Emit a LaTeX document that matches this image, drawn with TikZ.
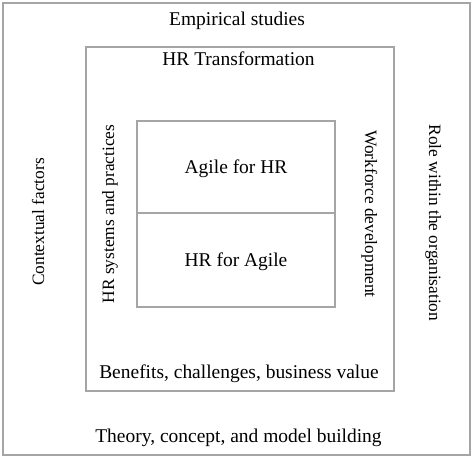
\documentclass[tikz,border=0pt]{standalone}
\usepackage{fontspec}
\setmainfont{Liberation Serif}
\definecolor{framegray}{RGB}{165,165,165}
\begin{document}
\begin{tikzpicture}[x=0.75pt,y=-0.75pt,
   frame/.style={draw=framegray,line width=1.1pt},
   boxtext/.style={anchor=base,inner sep=0pt,font=\fontsize{14.6}{17}\selectfont},
   sidetext/.style={anchor=base,inner sep=0pt,font=\fontsize{13}{15}\selectfont}]
   \useasboundingbox (0,0) rectangle (474,458);
   % Rahmen
   \draw[frame] (3,3) rectangle (470,455);
   \draw[frame] (86,47) rectangle (394,391);
   \draw[frame] (137,121) rectangle (335,307);
   \draw[frame] (137,213) -- (335,213);

   % waagrechte Texte
   \node[boxtext] (empirical) at (237,25) {Empirical studies};
   \node[boxtext] (transform) at (238.5,65) {HR Transformation};
   \node[boxtext] (agileforhr) at (236,173) {Agile for HR};
   \node[boxtext] (hrforagile) at (236,266) {HR for Agile};
   \node[boxtext] (benefits) at (239,378) {Benefits, challenges, business value};
   \node[boxtext] (theory) at (238.5,442) {Theory, concept, and model building};

   % senkrechte Texte
   \node[sidetext,rotate=90] (context) at (44,222) {Contextual factors};
   \node[sidetext,rotate=90] (systems) at (114,214) {HR systems and practices};
   \node[sidetext,rotate=-90] (workforce) at (365,214) {Workforce development};
   \node[sidetext,rotate=-90] (role) at (429,223) {Role within the organisation};
\end{tikzpicture}
\end{document}
